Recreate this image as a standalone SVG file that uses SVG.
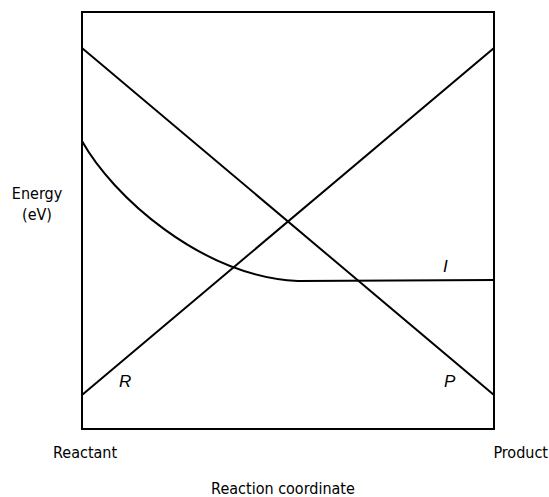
<svg xmlns="http://www.w3.org/2000/svg" width="549" height="497" viewBox="0 0 549 497">
<style>
.ln{fill:none;stroke:#000;stroke-width:2}
.t{font-family:"DejaVu Sans Condensed","DejaVu Sans",sans-serif;font-size:16px;fill:#000}
.it{font-family:"Liberation Sans",sans-serif;font-style:italic;font-size:17px;fill:#000}
</style>
<rect width="549" height="497" fill="#fff"/>
<g id="frame"><rect class="ln" x="82" y="12" width="412" height="417"/></g>
<g id="connectors">
<path id="curveP" class="ln" d="M82,48 L494,395"/>
<path id="curveR" class="ln" d="M82,395 L494,48"/>
<path id="curveI" class="ln" d="M82,141 C112,195 200,276 298,281 L494,280"/>
</g>
<g id="labels">
<text class="it" x="443" y="272">I</text>
<text class="it" x="119" y="387">R</text>
<text class="it" x="444" y="387">P</text>
<text class="t" x="37" y="199" text-anchor="middle">Energy</text>
<text class="t" x="37" y="220" text-anchor="middle">(eV)</text>
<text class="t" x="53" y="458">Reactant</text>
<text class="t" x="548" y="458" text-anchor="end">Product</text>
<text class="t" x="283" y="494" text-anchor="middle">Reaction coordinate</text>
</g>
</svg>
